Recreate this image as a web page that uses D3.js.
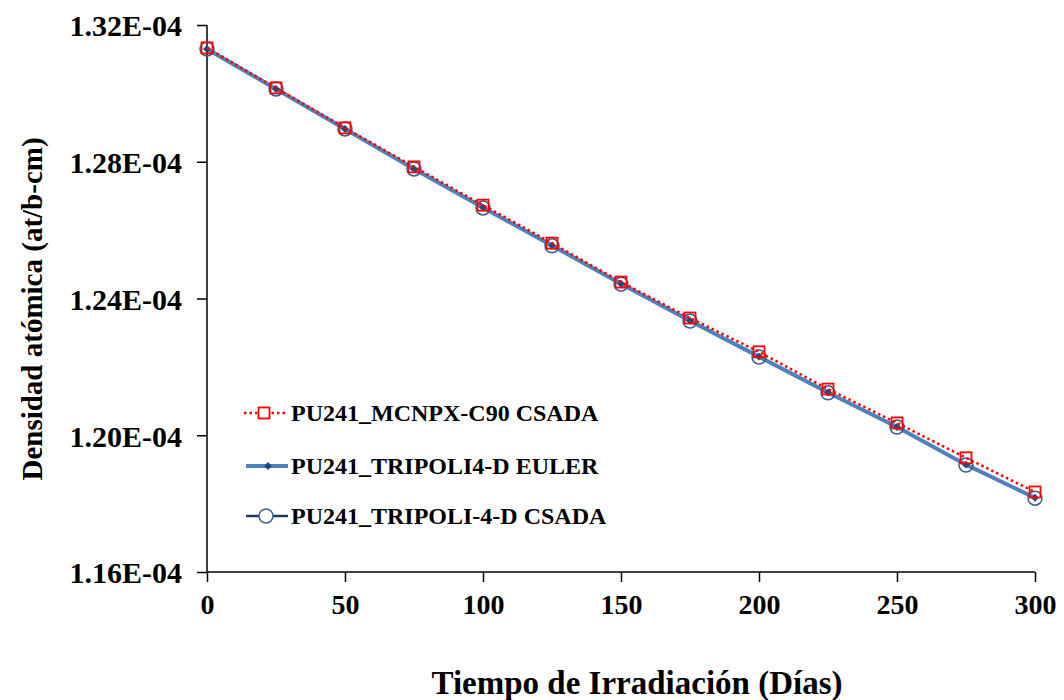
<!DOCTYPE html>
<html>
<head>
<meta charset="utf-8">
<script src="https://cdn.jsdelivr.net/npm/d3@7"></script>
<style>
  body { margin: 0; background: #fff; }
  text { font-family: "Liberation Serif", "Times New Roman", serif; font-weight: bold; }
</style>
</head>
<body>
<div id="chart"></div>
<script>
// days of irradiation
const days = [0, 25, 50, 75, 100, 125, 150, 175, 200, 225, 250, 275, 300];

// atomic density, 1e-4 at/b-cm
const mcnpxCsada = [1.3133, 1.3016, 1.2899, 1.2785, 1.2673, 1.2562, 1.2448, 1.2343, 1.2244, 1.2135, 1.2036, 1.1934, 1.1834];
const tripoliEuler = [1.3130, 1.3013, 1.2896, 1.2779, 1.2666, 1.2555, 1.2443, 1.2335, 1.2230, 1.2125, 1.2024, 1.1914, 1.1817];
const tripoliCsada = [1.3130, 1.3013, 1.2896, 1.2779, 1.2665, 1.2554, 1.2442, 1.2334, 1.2229, 1.2124, 1.2024, 1.1913, 1.1816];

const yTicks = [1.16, 1.20, 1.24, 1.28, 1.32];
const xTicks = [0, 50, 100, 150, 200, 250, 300];

const seriesNames = ["PU241_MCNPX-C90 CSADA", "PU241_TRIPOLI4-D EULER", "PU241_TRIPOLI-4-D CSADA"];

const W = 1064, H = 700;
const margin = { top: 25, right: 29, bottom: 128, left: 207 };
const width = W - margin.left - margin.right;
const height = H - margin.top - margin.bottom;

const svg = d3.select("#chart").append("svg")
    .attr("width", W)
    .attr("height", H);

const g = svg.append("g")
    .attr("transform", `translate(${margin.left},${margin.top})`);

const x = d3.scaleLinear().domain([0, 300]).range([0, width]);
const y = d3.scaleLinear().domain([1.16, 1.32]).range([height, 0]);

// axes
const xAxis = g.append("g")
    .attr("transform", `translate(0,${height})`)
    .call(d3.axisBottom(x).tickValues(xTicks).tickSize(10).tickPadding(12).tickFormat(d3.format("d")));
xAxis.selectAll("text").style("font-size", "28px").attr("fill", "#000");

const yAxis = g.append("g")
    .call(d3.axisLeft(y).tickValues(yTicks).tickSize(10).tickPadding(15)
        .tickFormat(d => d.toFixed(2) + "E-04"));
yAxis.selectAll("text").style("font-size", "30px").attr("fill", "#000").attr("dy", "0.36em");

g.selectAll(".domain").attr("stroke", "#000").attr("stroke-width", 1.5);
g.selectAll(".tick line").attr("stroke", "#000").attr("stroke-width", 1.5);
// drop the outer ticks of the domain path
xAxis.select(".domain").attr("d", `M0,0H${width}`);
yAxis.select(".domain").attr("d", `M0,0V${height}`);

const line = d3.line()
    .x((d, i) => x(days[i]))
    .y(d => y(d));

// TRIPOLI-4-D CSADA line (navy)
g.append("path")
    .datum(tripoliCsada)
    .attr("fill", "none")
    .attr("stroke", "#1f3864")
    .attr("stroke-width", 2.5)
    .attr("d", line);

// TRIPOLI4-D EULER line (light blue)
g.append("path")
    .datum(tripoliEuler)
    .attr("fill", "none")
    .attr("stroke", "#4f81bd")
    .attr("stroke-width", 4)
    .attr("d", line);

// circles
g.selectAll(".circ")
    .data(tripoliCsada)
    .enter().append("circle")
    .attr("cx", (d, i) => x(days[i]))
    .attr("cy", d => y(d))
    .attr("r", 7)
    .attr("fill", "none")
    .attr("stroke", "#385d8a")
    .attr("stroke-width", 1.5);

// diamonds
const diamond = d3.symbol().type(d3.symbolDiamond2).size(40);
g.selectAll(".diam")
    .data(tripoliEuler)
    .enter().append("path")
    .attr("transform", (d, i) => `translate(${x(days[i])},${y(d)})`)
    .attr("d", diamond)
    .attr("fill", "#1f497d");

// MCNPX line (red dotted)
g.append("path")
    .datum(mcnpxCsada)
    .attr("fill", "none")
    .attr("stroke", "#ff0000")
    .attr("stroke-width", 2.5)
    .attr("stroke-dasharray", "2.5,3")
    .attr("d", line);

// squares
g.selectAll(".sq")
    .data(mcnpxCsada)
    .enter().append("rect")
    .attr("x", (d, i) => x(days[i]) - 5.5)
    .attr("y", d => y(d) - 5.5)
    .attr("width", 11)
    .attr("height", 11)
    .attr("fill", "none")
    .attr("stroke", "#ff0000")
    .attr("stroke-width", 1.8);

// axis titles
svg.append("text")
    .attr("x", 637)
    .attr("y", 694)
    .attr("text-anchor", "middle")
    .style("font-size", "33px")
    .text("Tiempo de Irradiación (Días)");

svg.append("text")
    .attr("transform", "translate(42,309) rotate(-90)")
    .attr("text-anchor", "middle")
    .style("font-size", "29px")
    .text("Densidad atómica (at/b-cm)");

// legend
const legendY = [413, 466, 516];
const legend = svg.append("g");

// row 1
legend.append("line")
    .attr("x1", 244).attr("x2", 286)
    .attr("y1", legendY[0]).attr("y2", legendY[0])
    .attr("stroke", "#ff0000").attr("stroke-width", 2.5)
    .attr("stroke-dasharray", "2.5,3");
legend.append("rect")
    .attr("x", 264 - 5.5).attr("y", legendY[0] - 5.5)
    .attr("width", 11).attr("height", 11)
    .attr("fill", "#fff").attr("stroke", "#ff0000").attr("stroke-width", 1.8);

// row 2
legend.append("line")
    .attr("x1", 246).attr("x2", 288)
    .attr("y1", legendY[1]).attr("y2", legendY[1])
    .attr("stroke", "#4f81bd").attr("stroke-width", 4);
legend.append("path")
    .attr("transform", `translate(268,${legendY[1]})`)
    .attr("d", diamond)
    .attr("fill", "#1f497d");

// row 3
legend.append("line")
    .attr("x1", 246).attr("x2", 288)
    .attr("y1", legendY[2]).attr("y2", legendY[2])
    .attr("stroke", "#1f3864").attr("stroke-width", 2.5);
legend.append("circle")
    .attr("cx", 266).attr("cy", legendY[2]).attr("r", 7)
    .attr("fill", "#fff").attr("stroke", "#385d8a").attr("stroke-width", 1.5);

legend.selectAll(".lt")
    .data(seriesNames)
    .enter().append("text")
    .attr("x", 291)
    .attr("y", (d, i) => legendY[i] + 8)
    .style("font-size", "24px")
    .text(d => d);
</script>
</body>
</html>
